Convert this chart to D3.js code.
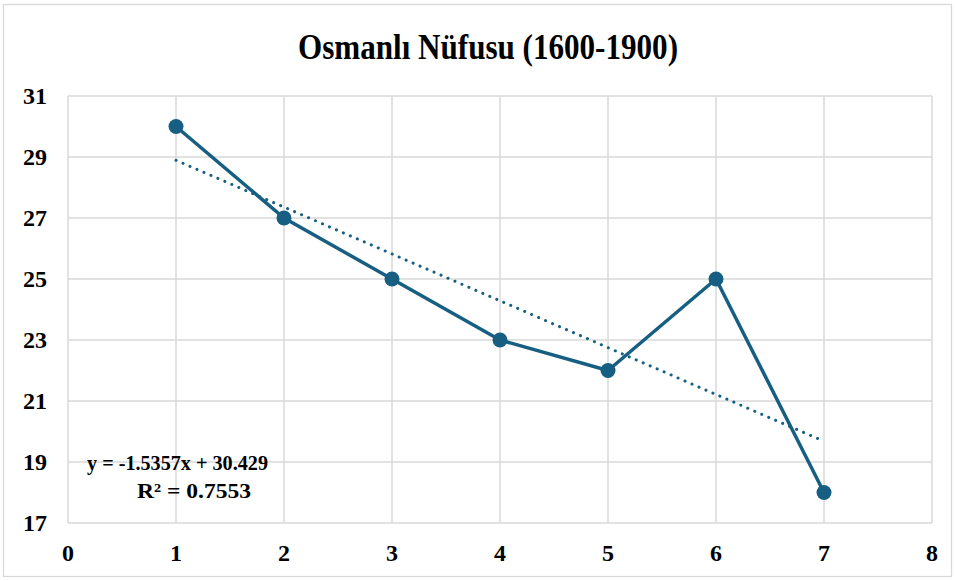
<!DOCTYPE html>
<html>
<head>
  <meta charset="UTF-8">
  <style>
    body { margin: 0; background: #fff; }
    text { font-family: "Liberation Serif", "Times New Roman", serif; font-weight: bold; fill: #000; }
  </style>
  <title>Osmanlı Nüfusu</title>
</head>
<body>
<svg></svg>
<script src="https://d3js.org/d3.v7.min.js"></script>
<script>

let width = 955, height = 581;

// data
let xs = [1, 2, 3, 4, 5, 6, 7];
let ys = [30, 27, 25, 23, 22, 25, 18];
let xTicks = [0, 1, 2, 3, 4, 5, 6, 7, 8];
let yTicks = [17, 19, 21, 23, 25, 27, 29, 31];
let trendSlope = -1.5357, trendIntercept = 30.429;
let trendLabel = ["y = -1.5357x + 30.429", "R² = 0.7553"];

let color = "#175f82";

let svg = d3.select("svg")
    .attr("width", width)
    .attr("height", height);

// outer border
svg.append("rect")
    .attr("x", 3.5).attr("y", 4.5)
    .attr("width", 948).attr("height", 572)
    .attr("fill", "#fff")
    .attr("stroke", "#d9d9d9")
    .attr("stroke-width", 1.3);

let x = d3.scaleLinear().domain([0, 8]).range([68, 932]);
let y = d3.scaleLinear().domain([17, 31]).range([523, 96]);

// gridlines
svg.append("g").selectAll("line")
    .data(yTicks)
    .enter().append("line")
    .attr("x1", x(0)).attr("x2", x(8))
    .attr("y1", d => y(d)).attr("y2", d => y(d))
    .attr("stroke", "#d9d9d9")
    .attr("stroke-width", 1.5);

svg.append("g").selectAll("line")
    .data(xTicks)
    .enter().append("line")
    .attr("x1", d => x(d)).attr("x2", d => x(d))
    .attr("y1", y(17)).attr("y2", y(31))
    .attr("stroke", "#d9d9d9")
    .attr("stroke-width", 1.5);

// tick labels
svg.append("g").selectAll("text")
    .data(yTicks)
    .enter().append("text")
    .attr("x", 47)
    .attr("y", d => y(d) + 8)
    .attr("text-anchor", "end")
    .attr("font-size", 24)
    .text(d => d);

svg.append("g").selectAll("text")
    .data(xTicks)
    .enter().append("text")
    .attr("x", d => x(d))
    .attr("y", 561)
    .attr("text-anchor", "middle")
    .attr("font-size", 24)
    .text(d => d);

// title
svg.append("text")
    .attr("x", 298)
    .attr("y", 59)
    .attr("font-size", 35)
    .attr("textLength", 380)
    .attr("lengthAdjust", "spacingAndGlyphs")
    .text("Osmanlı Nüfusu (1600-1900)");

// trendline
let tx = d3.extent(xs);
svg.append("line")
    .attr("x1", x(tx[0])).attr("y1", y(trendSlope * tx[0] + trendIntercept))
    .attr("x2", x(tx[1])).attr("y2", y(trendSlope * tx[1] + trendIntercept))
    .attr("stroke", color)
    .attr("stroke-width", 3)
    .attr("stroke-linecap", "round")
    .attr("stroke-dasharray", "0.1,7.5");

// series line
let pts = xs.map((d, i) => [d, ys[i]]);
svg.append("path")
    .datum(pts)
    .attr("fill", "none")
    .attr("stroke", color)
    .attr("stroke-width", 3.5)
    .attr("stroke-linejoin", "round")
    .attr("d", d3.line().x(d => x(d[0])).y(d => y(d[1])));

svg.append("g").selectAll("circle")
    .data(pts)
    .enter().append("circle")
    .attr("cx", d => x(d[0]))
    .attr("cy", d => y(d[1]))
    .attr("r", 7.5)
    .attr("fill", color);

// equation label
let labelX = [87, 137], labelW = [181, 114];
svg.append("g").selectAll("text")
    .data(trendLabel)
    .enter().append("text")
    .attr("x", (d, i) => labelX[i])
    .attr("y", (d, i) => 470 + i * 28)
    .attr("font-size", 22)
    .attr("textLength", (d, i) => labelW[i])
    .attr("lengthAdjust", "spacingAndGlyphs")
    .text(d => d);

</script>
</body>
</html>
